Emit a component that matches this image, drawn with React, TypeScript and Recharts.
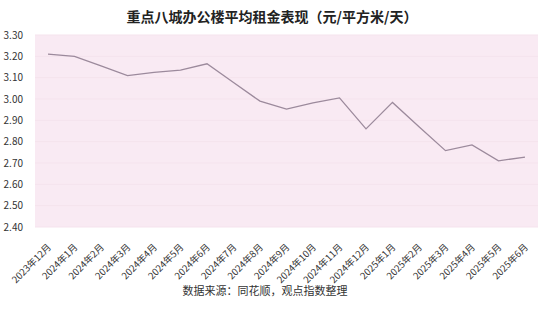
import React from 'react';
import { LineChart, Line, XAxis, YAxis, CartesianGrid } from 'recharts';

const months = [
  '2023年12月', '2024年1月', '2024年2月', '2024年3月', '2024年4月', '2024年5月',
  '2024年6月', '2024年7月', '2024年8月', '2024年9月', '2024年10月', '2024年11月',
  '2024年12月', '2025年1月', '2025年2月', '2025年3月', '2025年4月', '2025年5月', '2025年6月',
];
const rents = [
  3.21, 3.2, 3.155, 3.11, 3.125, 3.135, 3.165, 3.077, 2.99, 2.953, 2.982, 3.005,
  2.86, 2.984, 2.87, 2.758, 2.785, 2.71, 2.728,
];
const yTicks = [2.4, 2.5, 2.6, 2.7, 2.8, 2.9, 3.0, 3.1, 3.2, 3.3];
const title = '重点八城办公楼平均租金表现（元/平方米/天）';
const source = '数据来源：同花顺，观点指数整理';

const data = months.map((m, i) => ({ month: m, rent: rents[i] }));
const FONT = '"Noto Sans CJK SC", "Noto Sans", sans-serif';

const XTick = (props: any) => {
  const { x, y, payload } = props;
  return (
    <g transform={`translate(${x + 1},${y + 10})`}>
      <text
        x={0}
        y={0}
        textAnchor="end"
        dominantBaseline="central"
        transform="rotate(-45)"
        fontSize={9.5}
        fill="#333"
        fontFamily={FONT}
      >
        {payload.value}
      </text>
    </g>
  );
};

export default function App() {
  return (
    <div style={{ position: 'absolute', left: 0, top: 0, width: 550, height: 310, background: '#fff' }}>
      <LineChart
        width={550}
        height={310}
        data={data}
        margin={{ top: 35, right: 12, bottom: 23, left: 0 }}
      >
        <text
          x={272}
          y={22}
          textAnchor="middle"
          fontSize={14}
          fontWeight="bold"
          fill="#222"
          fontFamily={FONT}
        >
          {title}
        </text>
        <text
          x={265}
          y={295}
          textAnchor="middle"
          fontSize={11}
          fill="#333"
          fontFamily={FONT}
        >
          {source}
        </text>
        <CartesianGrid vertical={false} fill="#f9eaf3" stroke="#f5e3ed" />
        <XAxis
          dataKey="month"
          interval={0}
          height={60}
          axisLine={false}
          tickLine={false}
          padding={{ left: 13, right: 13 }}
          tick={<XTick />}
        />
        <YAxis
          width={35}
          domain={[2.4, 3.3]}
          ticks={yTicks}
          interval={0}
          axisLine={false}
          tickLine={false}
          tickFormatter={(v: number) => v.toFixed(2)}
          tick={{ fontSize: 10, fill: '#333', fontFamily: FONT }}
          tickMargin={6}
        />
        <Line
          type="linear"
          dataKey="rent"
          stroke="#9c8a9c"
          strokeWidth={1.3}
          dot={false}
          isAnimationActive={false}
        />
      </LineChart>
    </div>
  );
}
